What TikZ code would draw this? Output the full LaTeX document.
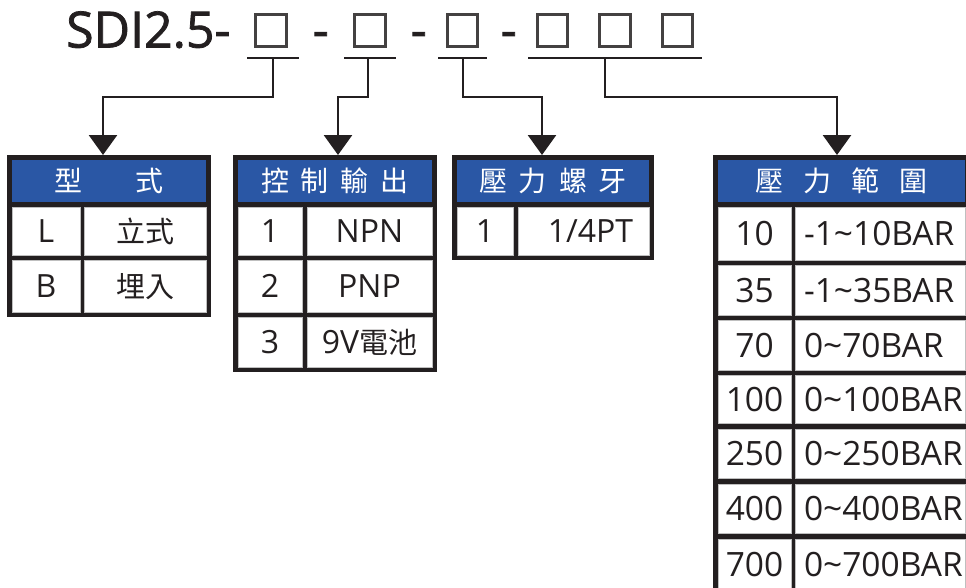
\documentclass[tikz,border=0pt]{standalone}
\usepackage{fontspec}
\setmainfont{Open Sans}
\newfontfamily\cjk{Noto Sans CJK TC}
\newfontfamily\titlefont[FakeBold=1.5]{Open Sans}
\usetikzlibrary{arrows.meta,calc}
\definecolor{ink}{HTML}{231F20}
\definecolor{hdrblue}{HTML}{2A57A5}
\newcommand{\mytilde}{\textasciitilde}
\begin{document}
\begin{tikzpicture}[x=1pt,y=-1pt,
  frame/.style={fill=ink, draw=none, inner sep=0pt, outer sep=0pt, anchor=north west},
  cell/.style={fill=white, draw=black!25, line width=0.7pt, inner sep=0pt, outer sep=0pt, anchor=north west, text=ink, font=\fontsize{32}{32}\selectfont, text height=23pt, text depth=0pt},
  cellc/.style={cell, font=\fontsize{29}{29}\selectfont\cjk, text height=24pt, text depth=2pt},
  cellf/.style={cell, font=\fontsize{33.5}{33.5}\selectfont, text height=24pt, text depth=0pt},
  hdr/.style={cell, fill=hdrblue, draw=none, text=white, font=\fontsize{28}{28}\selectfont\cjk, text height=23.2pt, text depth=2pt},
  sqbox/.style={draw=ink!85, line width=2.6pt, inner sep=0pt, minimum width=30.5pt, minimum height=32.5pt},
  uline/.style={draw=ink, line width=2.6pt},
  conn/.style={draw=ink, line width=2.8pt, -{Triangle[width=28pt,length=20pt]}},
  ttl/.style={font=\titlefont\fontsize{50}{50}\selectfont, text=ink, inner sep=0pt, anchor=base west}
]
\useasboundingbox (0,0) rectangle (966,587);
\clip (0,0) rectangle (966,587);

% title
\node[ttl] (title) at (66,47.5) {SDI2.5-};
\node[ttl] (d1) at (312.5,47.5) {-};
\node[ttl] (d2) at (410.5,47.5) {-};
\node[ttl] (d3) at (500.5,47.5) {-};
\node[sqbox] (b1) at (271,30.5) {};
\node[sqbox] (b2) at (370,30.5) {};
\node[sqbox] (b3) at (462.5,30.5) {};
\node[sqbox] (b4) at (552.5,30.5) {};
\node[sqbox] (b5) at (615,30.5) {};
\node[sqbox] (b6) at (677.5,30.5) {};

% underlines
\draw[uline] (247,58) -- (299,58);
\draw[uline] (344,58) -- (396,58);
\draw[uline] (438,58) -- (487,58);
\draw[uline] (528,58) -- (702,58);
\coordinate (u1) at (273,58);
\coordinate (u2) at (368,58);
\coordinate (u3) at (463,58);
\coordinate (u4) at (605,58);

% table 1
\node[frame, minimum width=204pt, minimum height=162pt] (t1) at (7,155) {};
\node[hdr, minimum width=194pt, minimum height=42pt] (t1h) at (12,160) {型\hspace{53pt}式};
\node[cell, minimum width=68pt, minimum height=48pt] (t1a1) at (12,207) {L};
\node[cellc, minimum width=122pt, minimum height=48pt] (t1b1) at (84,207) {立式};
\node[cell, minimum width=68pt, minimum height=52pt] (t1a2) at (12,260) {B};
\node[cellc, minimum width=122pt, minimum height=52pt] (t1b2) at (84,260) {埋入};

% table 2
\node[frame, minimum width=204pt, minimum height=217pt] (t2) at (233,155) {};
\node[hdr, minimum width=194pt, minimum height=42pt] (t2h) at (238,160) {控\hspace{12pt}制\hspace{12pt}輸\hspace{12pt}出};
\node[cell, minimum width=64pt, minimum height=48pt] (t2a1) at (238,207) {1};
\node[cell, minimum width=125pt, minimum height=48pt] (t2b1) at (307,207) {NPN};
\node[cell, minimum width=64pt, minimum height=52pt] (t2a2) at (238,260) {2};
\node[cell, minimum width=125pt, minimum height=52pt] (t2b2) at (307,260) {PNP};
\node[cell, minimum width=64pt, minimum height=50pt] (t2a3) at (238,317) {3};
\node[cell, minimum width=125pt, minimum height=50pt] (t2b3) at (307,317) {9V{\cjk\fontsize{29}{29}\selectfont 電池}};

% table 3
\node[frame, minimum width=202pt, minimum height=105pt] (t3) at (452,155) {};
\node[hdr, minimum width=192pt, minimum height=42pt] (t3h) at (457,160) {壓\hspace{12pt}力\hspace{12pt}螺\hspace{12pt}牙};
\node[cell, minimum width=56pt, minimum height=48pt] (t3a1) at (457,207) {1};
\node[cell, minimum width=131pt, minimum height=48pt] (t3b1) at (518,207) {\hspace*{14pt}1/4PT};

% table 4
\node[frame, minimum width=260pt, minimum height=450pt] (t4) at (713,155) {};
\node[hdr, minimum width=247pt, minimum height=42pt] (t4h) at (718,160) {壓\hspace{20pt}力\hspace{20pt}範\hspace{20pt}圍};
\foreach \i/\ty/\h/\a/\b in {1/207/53/10/{-1\mytilde 10BAR},2/265/50/35/{-1\mytilde 35BAR},3/320/50/70/{0\mytilde 70BAR},4/375/48/100/{0\mytilde 100BAR},5/429/49/250/{0\mytilde 250BAR},6/484/49/400/{0\mytilde 400BAR},7/539/50/700/{0\mytilde 700BAR}}{
  \node[cellf, minimum width=73pt, minimum height=\h pt] (t4a\i) at (718,\ty) {\a};
  \node[cellf, minimum width=170pt, minimum height=\h pt] (t4b\i) at (795,\ty) {\makebox[152pt][l]{\b}};
}

% connectors
\draw[conn] (u1) -- ++(0,39) -| ($(t1.north west)+(96,0)$);
\draw[conn] (u2) -- ++(0,39) -| ($(t2.north west)+(105,0)$);
\draw[conn] (u3) -- ++(0,39) -| ($(t3.north west)+(90,0)$);
\draw[conn] (u4) -- ++(0,39) -| ($(t4.north west)+(124,0)$);
\end{tikzpicture}
\end{document}
